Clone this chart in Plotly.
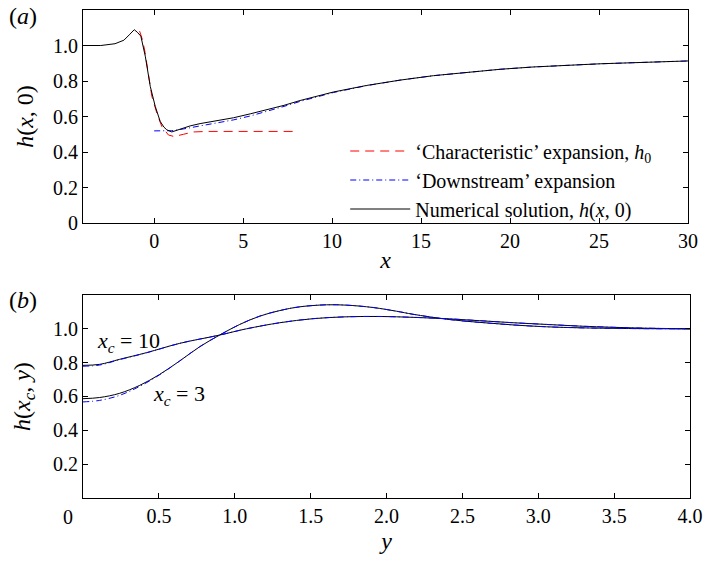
import plotly.graph_objects as go

# ---------- Panel (a) data ----------
xa_num = [-4, -3, -2.2, -1.7, -1.4, -1.12, -0.95, -0.75, -0.5, -0.22, 0.06, 0.34, 0.55, 0.71, 0.99,
          1.46, 2.02, 2.58, 3.5, 4.46, 5.4, 6.33, 7.3, 8.2, 9.2, 10.07, 11.94, 13.82, 15.69, 17.56,
          19.44, 21.3, 23.2, 25.06, 26.9, 28.8, 30]
ha_num = [1.0, 1.0, 1.01, 1.03, 1.06, 1.089, 1.075, 1.053, 0.94, 0.77, 0.657, 0.572, 0.54, 0.525, 0.513,
          0.528, 0.547, 0.56, 0.575, 0.593, 0.615, 0.638, 0.663, 0.69, 0.716, 0.738, 0.775, 0.805, 0.83, 0.85,
          0.866, 0.879, 0.889, 0.897, 0.903, 0.909, 0.913]

xa_down = [0, 0.5, 0.99, 1.65, 2.58, 3.5, 4.46, 5.4, 6.33, 7.3, 8.2, 9.2, 10.07, 11.94, 13.82, 15.69,
           17.56, 19.44, 21.3, 23.2, 25.06, 26.9, 28.8, 30]
ha_down = [0.519, 0.519, 0.52, 0.53, 0.547, 0.563, 0.581, 0.603, 0.628, 0.657, 0.685, 0.712, 0.735, 0.774,
           0.805, 0.83, 0.85, 0.866, 0.879, 0.889, 0.897, 0.903, 0.909, 0.913]

xa_char = [-0.82, -0.65, -0.51, -0.3, -0.13, 0.15, 0.43, 0.8, 1.12, 1.65, 2.21, 3.0, 8.0]
ha_char = [1.081, 1.03, 0.96, 0.83, 0.713, 0.619, 0.543, 0.496, 0.487, 0.50, 0.513, 0.516, 0.516]

# ---------- Panel (b) data ----------
yb_3 = [0, 0.11, 0.242, 0.374, 0.506, 0.637, 0.769, 0.90, 1.033, 1.165, 1.297, 1.428, 1.604, 1.736,
        1.912, 2.066, 2.175, 2.395, 2.615, 2.834, 3.054, 3.274, 3.494, 3.7, 4.0]
hb_3_num = [0.587, 0.594, 0.619, 0.666, 0.731, 0.81, 0.894, 0.963, 1.026, 1.075, 1.108, 1.13, 1.142, 1.14,
            1.126, 1.104, 1.086, 1.057, 1.038, 1.023, 1.012, 1.006, 1.003, 1.001, 1.0]
hb_3_down = [0.568, 0.577, 0.607, 0.660, 0.729, 0.81, 0.894, 0.963, 1.026, 1.075, 1.108, 1.13, 1.142, 1.14,
             1.126, 1.104, 1.086, 1.057, 1.038, 1.023, 1.012, 1.006, 1.003, 1.001, 1.0]

yb_10 = [0, 0.11, 0.242, 0.418, 0.637, 0.90, 1.077, 1.297, 1.516, 1.736, 1.956, 2.175, 2.395, 2.615,
         2.834, 3.054, 3.274, 3.494, 3.7, 4.0]
hb_10_num = [0.784, 0.79, 0.82, 0.859, 0.914, 0.963, 1.0, 1.036, 1.06, 1.071, 1.073, 1.068, 1.06, 1.048,
             1.036, 1.026, 1.016, 1.009, 1.004, 1.0]
hb_10_down = [0.779, 0.786, 0.818, 0.858, 0.914, 0.963, 1.0, 1.036, 1.06, 1.071, 1.073, 1.068, 1.06, 1.048,
              1.036, 1.026, 1.016, 1.009, 1.004, 1.0]

xa_ticks = [0, 5, 10, 15, 20, 25, 30]
ya_ticks = [0, 0.2, 0.4, 0.6, 0.8, 1.0]
ya_ticktext = ["0", "0.2", "0.4", "0.6", "0.8", "1.0"]
xb_ticks = [0, 0.5, 1.0, 1.5, 2.0, 2.5, 3.0, 3.5, 4.0]
xb_ticktext = ["", "0.5", "1.0", "1.5", "2.0", "2.5", "3.0", "3.5", "4.0"]
yb_ticks = [0.2, 0.4, 0.6, 0.8, 1.0]
yb_ticktext = ["0.2", "0.4", "0.6", "0.8", "1.0"]

FONT = "Liberation Serif, Times New Roman, serif"
RED = "#ff0000"
BLUE = "#0000ff"

fig = go.Figure()

fig.add_trace(go.Scatter(x=xa_char, y=ha_char, mode="lines", xaxis="x", yaxis="y",
                         name="‘Characteristic’ expansion, <i>h</i><sub>0</sub>",
                         line=dict(color=RED, width=1, dash="9px,6px")))
fig.add_trace(go.Scatter(x=xa_down, y=ha_down, mode="lines", xaxis="x", yaxis="y",
                         name="‘Downstream’ expansion",
                         line=dict(color=BLUE, width=1, dash="6px,3px,1px,3px")))
fig.add_trace(go.Scatter(x=xa_num, y=ha_num, mode="lines", xaxis="x", yaxis="y",
                         name="Numerical solution, <i>h</i>(<i>x</i>, 0)",
                         line=dict(color="black", width=1)))

# panel (b)
fig.add_trace(go.Scatter(x=yb_10, y=hb_10_num, mode="lines", xaxis="x2", yaxis="y2", showlegend=False,
                         line=dict(color="black", width=1, shape="spline")))
fig.add_trace(go.Scatter(x=yb_3, y=hb_3_num, mode="lines", xaxis="x2", yaxis="y2", showlegend=False,
                         line=dict(color="black", width=1, shape="spline")))
fig.add_trace(go.Scatter(x=yb_10, y=hb_10_down, mode="lines", xaxis="x2", yaxis="y2", showlegend=False,
                         line=dict(color=BLUE, width=1, shape="spline", dash="6px,3px,1px,3px")))
fig.add_trace(go.Scatter(x=yb_3, y=hb_3_down, mode="lines", xaxis="x2", yaxis="y2", showlegend=False,
                         line=dict(color=BLUE, width=1, shape="spline", dash="6px,3px,1px,3px")))

axis_common = dict(showline=True, mirror="ticks", ticks="inside", ticklen=5, linecolor="black",
                   linewidth=1, tickcolor="black", showgrid=False, zeroline=False, automargin=False,
                   tickfont=dict(family=FONT, size=20, color="black"))

fig.update_layout(
    template="none",
    width=705, height=561,
    margin=dict(l=83, r=15, t=10, b=63, autoexpand=False),
    paper_bgcolor="white", plot_bgcolor="white",
    font=dict(family=FONT, size=20, color="black"),
    showlegend=True,
    legend=dict(x=0.432, y=0.751, xanchor="left", yanchor="top", bgcolor="rgba(0,0,0,0)",
                borderwidth=0, font=dict(family=FONT, size=20, color="black"), tracegroupgap=0,
                itemwidth=60),
    xaxis=dict(domain=[0, 0.9967], range=[-4, 30], anchor="y", tickvals=xa_ticks,
               title=dict(text="<i>x</i>", font=dict(family=FONT, size=24), standoff=0), **axis_common),
    yaxis=dict(domain=[0.5635, 1], range=[0, 1.2], anchor="x", tickvals=ya_ticks, ticktext=ya_ticktext,
               title=dict(text="<i>h</i>(<i>x</i>, 0)", font=dict(family=FONT, size=24), standoff=12),
               **axis_common),
    xaxis2=dict(domain=[0, 1], range=[0, 4.0], anchor="y2", tickvals=xb_ticks, ticktext=xb_ticktext,
                title=dict(text="<i>y</i>", font=dict(family=FONT, size=24), standoff=6), **axis_common),
    yaxis2=dict(domain=[0, 0.416], range=[0, 1.2], anchor="x2", tickvals=yb_ticks, ticktext=yb_ticktext,
                title=dict(text="<i>h</i>(<i>x<sub>c</sub></i>, <i>y</i>)", font=dict(family=FONT, size=24),
                           standoff=15),
                **axis_common),
)

annotations = [
    dict(text="(<i>a</i>)", xref="paper", yref="paper", x=-0.125, y=0.988, xanchor="left", yanchor="middle",
         showarrow=False, font=dict(family=FONT, size=24)),
    dict(text="(<i>b</i>)", xref="paper", yref="paper", x=-0.125, y=0.406, xanchor="left", yanchor="middle",
         showarrow=False, font=dict(family=FONT, size=24)),
    dict(text="<i>x<sub>c</sub></i> = 10", xref="x2", yref="y2", x=0.30, y=0.925, showarrow=False,
         font=dict(family=FONT, size=22)),
    dict(text="<i>x<sub>c</sub></i> = 3", xref="x2", yref="y2", x=0.63, y=0.61, showarrow=False,
         font=dict(family=FONT, size=22)),
    dict(text="0", xref="paper", yref="paper", x=-0.0247, y=0, xanchor="center", yanchor="middle",
         yshift=-19, showarrow=False, font=dict(family=FONT, size=20)),
]
fig.update_layout(annotations=annotations)

fig.write_html("out.html", config={"displayModeBar": False},
               post_script="document.body.style.margin='0';")
